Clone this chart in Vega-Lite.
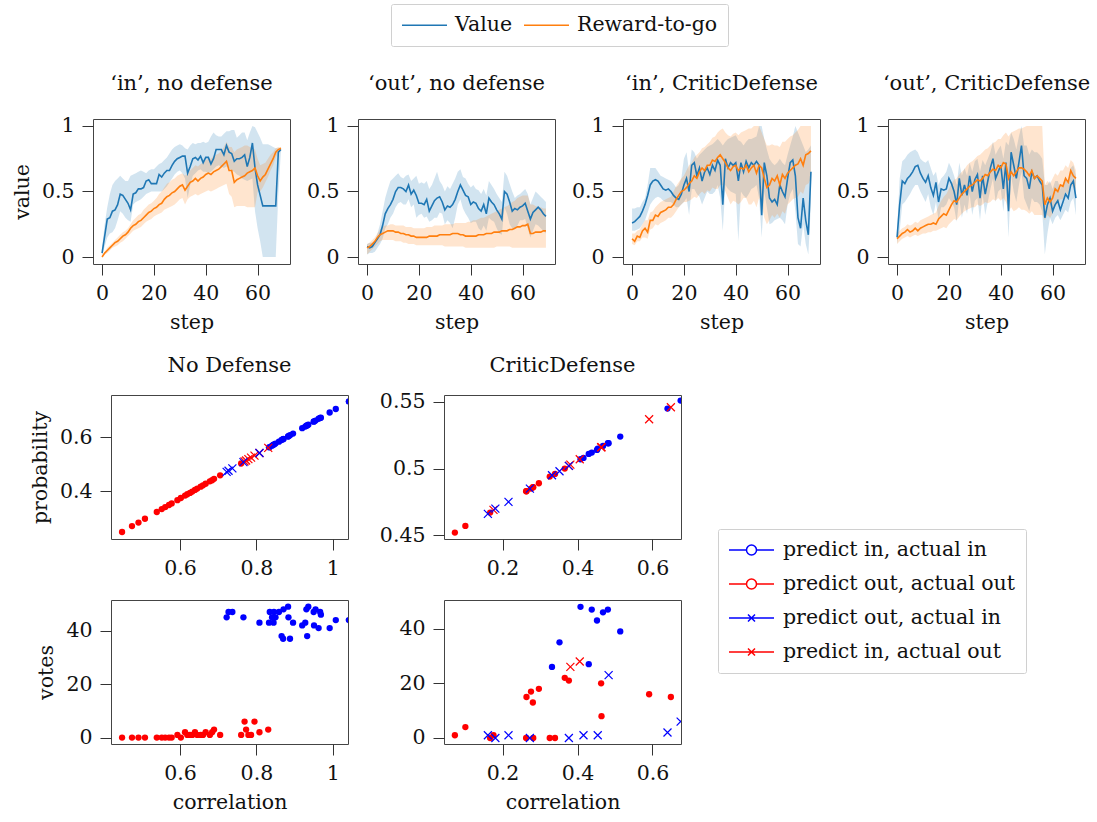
{
"$schema": "https://vega.github.io/schema/vega-lite/v6.json",
"padding": {"left": 11, "top": 3, "right": 5, "bottom": 5},
"background": "white",
"config": {
 "font": "DejaVu Serif",
 "view": {"stroke": "#444", "strokeWidth": 1},
 "axis": {"domain": false, "grid": false, "tickColor": "#333", "tickSize": 11, "tickWidth": 1, "labelFontSize": 20.5, "titleFontSize": 20.5, "titleFontWeight": "normal", "labelColor": "#111", "titleColor": "#111", "labelPadding": 8, "titlePadding": 9, "labelFlush": false, "labelOverlap": false},
 "title": {"fontSize": 21, "fontWeight": "normal", "color": "#111", "offset": 22, "frame": "group"},
 "legend": {"labelFontSize": 20.5, "labelColor": "#111", "strokeColor": "#d0d0d0", "fillColor": "white", "cornerRadius": 2, "labelLimit": 400}
},
"datasets": {
"a": [
{"step":0,"v":0.03,"vl":0.01,"vh":0.07,"r":0,"rl":0,"rh":0.01},
{"step":1,"v":0.16,"vl":0.08,"vh":0.25,"r":0.03,"rl":0.02,"rh":0.04},
{"step":2,"v":0.29,"vl":0.15,"vh":0.38,"r":0.05,"rl":0.03,"rh":0.07},
{"step":3,"v":0.30,"vl":0.18,"vh":0.48,"r":0.07,"rl":0.05,"rh":0.09},
{"step":4,"v":0.35,"vl":0.19,"vh":0.55,"r":0.09,"rl":0.07,"rh":0.11},
{"step":5,"v":0.36,"vl":0.22,"vh":0.58,"r":0.11,"rl":0.08,"rh":0.13},
{"step":6,"v":0.40,"vl":0.28,"vh":0.60,"r":0.12,"rl":0.09,"rh":0.15},
{"step":7,"v":0.48,"vl":0.35,"vh":0.62,"r":0.14,"rl":0.11,"rh":0.17},
{"step":8,"v":0.47,"vl":0.33,"vh":0.60,"r":0.16,"rl":0.12,"rh":0.19},
{"step":9,"v":0.44,"vl":0.30,"vh":0.58,"r":0.17,"rl":0.14,"rh":0.20},
{"step":10,"v":0.41,"vl":0.28,"vh":0.58,"r":0.19,"rl":0.16,"rh":0.22},
{"step":11,"v":0.36,"vl":0.27,"vh":0.62,"r":0.22,"rl":0.18,"rh":0.25},
{"step":12,"v":0.48,"vl":0.40,"vh":0.63,"r":0.24,"rl":0.20,"rh":0.28},
{"step":13,"v":0.49,"vl":0.42,"vh":0.64,"r":0.25,"rl":0.21,"rh":0.30},
{"step":14,"v":0.52,"vl":0.43,"vh":0.65,"r":0.27,"rl":0.22,"rh":0.32},
{"step":15,"v":0.52,"vl":0.44,"vh":0.66,"r":0.28,"rl":0.23,"rh":0.33},
{"step":16,"v":0.53,"vl":0.46,"vh":0.65,"r":0.30,"rl":0.25,"rh":0.36},
{"step":17,"v":0.58,"vl":0.48,"vh":0.64,"r":0.32,"rl":0.27,"rh":0.38},
{"step":18,"v":0.59,"vl":0.49,"vh":0.66,"r":0.34,"rl":0.28,"rh":0.40},
{"step":19,"v":0.56,"vl":0.50,"vh":0.67,"r":0.35,"rl":0.29,"rh":0.41},
{"step":20,"v":0.56,"vl":0.50,"vh":0.67,"r":0.37,"rl":0.31,"rh":0.43},
{"step":21,"v":0.56,"vl":0.50,"vh":0.69,"r":0.38,"rl":0.32,"rh":0.45},
{"step":22,"v":0.63,"vl":0.50,"vh":0.71,"r":0.40,"rl":0.33,"rh":0.48},
{"step":23,"v":0.61,"vl":0.50,"vh":0.72,"r":0.41,"rl":0.34,"rh":0.50},
{"step":24,"v":0.64,"vl":0.52,"vh":0.74,"r":0.44,"rl":0.36,"rh":0.53},
{"step":25,"v":0.66,"vl":0.54,"vh":0.76,"r":0.46,"rl":0.37,"rh":0.56},
{"step":26,"v":0.66,"vl":0.57,"vh":0.79,"r":0.47,"rl":0.38,"rh":0.57},
{"step":27,"v":0.70,"vl":0.60,"vh":0.82,"r":0.49,"rl":0.39,"rh":0.59},
{"step":28,"v":0.73,"vl":0.63,"vh":0.84,"r":0.50,"rl":0.40,"rh":0.60},
{"step":29,"v":0.75,"vl":0.65,"vh":0.85,"r":0.52,"rl":0.42,"rh":0.62},
{"step":30,"v":0.76,"vl":0.66,"vh":0.86,"r":0.54,"rl":0.44,"rh":0.63},
{"step":31,"v":0.77,"vl":0.64,"vh":0.85,"r":0.55,"rl":0.45,"rh":0.64},
{"step":32,"v":0.77,"vl":0.60,"vh":0.83,"r":0.51,"rl":0.40,"rh":0.62},
{"step":33,"v":0.64,"vl":0.45,"vh":0.82,"r":0.54,"rl":0.44,"rh":0.64},
{"step":34,"v":0.69,"vl":0.55,"vh":0.85,"r":0.57,"rl":0.46,"rh":0.66},
{"step":35,"v":0.75,"vl":0.62,"vh":0.87,"r":0.58,"rl":0.47,"rh":0.68},
{"step":36,"v":0.76,"vl":0.64,"vh":0.86,"r":0.60,"rl":0.48,"rh":0.70},
{"step":37,"v":0.74,"vl":0.66,"vh":0.87,"r":0.58,"rl":0.47,"rh":0.69},
{"step":38,"v":0.77,"vl":0.67,"vh":0.87,"r":0.60,"rl":0.48,"rh":0.71},
{"step":39,"v":0.72,"vl":0.65,"vh":0.88,"r":0.61,"rl":0.49,"rh":0.72},
{"step":40,"v":0.76,"vl":0.65,"vh":0.87,"r":0.63,"rl":0.50,"rh":0.74},
{"step":41,"v":0.76,"vl":0.64,"vh":0.88,"r":0.64,"rl":0.51,"rh":0.75},
{"step":42,"v":0.71,"vl":0.65,"vh":0.92,"r":0.63,"rl":0.50,"rh":0.75},
{"step":43,"v":0.75,"vl":0.67,"vh":0.95,"r":0.65,"rl":0.51,"rh":0.77},
{"step":44,"v":0.82,"vl":0.69,"vh":0.93,"r":0.66,"rl":0.52,"rh":0.78},
{"step":45,"v":0.82,"vl":0.70,"vh":0.92,"r":0.67,"rl":0.53,"rh":0.79},
{"step":46,"v":0.82,"vl":0.69,"vh":0.92,"r":0.69,"rl":0.54,"rh":0.81},
{"step":47,"v":0.78,"vl":0.68,"vh":0.94,"r":0.71,"rl":0.55,"rh":0.84},
{"step":48,"v":0.85,"vl":0.69,"vh":0.96,"r":0.73,"rl":0.56,"rh":0.88},
{"step":49,"v":0.80,"vl":0.68,"vh":0.96,"r":0.66,"rl":0.48,"rh":0.84},
{"step":50,"v":0.79,"vl":0.66,"vh":0.97,"r":0.66,"rl":0.46,"rh":0.84},
{"step":51,"v":0.73,"vl":0.65,"vh":0.97,"r":0.57,"rl":0.38,"rh":0.80},
{"step":52,"v":0.75,"vl":0.63,"vh":0.91,"r":0.59,"rl":0.39,"rh":0.82},
{"step":53,"v":0.75,"vl":0.62,"vh":0.93,"r":0.60,"rl":0.39,"rh":0.83},
{"step":54,"v":0.76,"vl":0.60,"vh":0.95,"r":0.61,"rl":0.39,"rh":0.84},
{"step":55,"v":0.78,"vl":0.59,"vh":0.95,"r":0.62,"rl":0.39,"rh":0.85},
{"step":56,"v":0.69,"vl":0.58,"vh":0.89,"r":0.64,"rl":0.38,"rh":0.85},
{"step":57,"v":0.76,"vl":0.59,"vh":0.95,"r":0.65,"rl":0.38,"rh":0.84},
{"step":58,"v":0.87,"vl":0.60,"vh":1.0,"r":0.66,"rl":0.38,"rh":0.83},
{"step":59,"v":0.68,"vl":0.35,"vh":0.99,"r":0.68,"rl":0.38,"rh":0.82},
{"step":60,"v":0.55,"vl":0.22,"vh":0.95,"r":0.62,"rl":0.50,"rh":0.75},
{"step":61,"v":0.47,"vl":0.12,"vh":0.91,"r":0.58,"rl":0.50,"rh":0.70},
{"step":62,"v":0.39,"vl":0,"vh":0.86,"r":0.61,"rl":0.53,"rh":0.71},
{"step":63,"v":0.39,"vl":0,"vh":0.86,"r":0.63,"rl":0.57,"rh":0.72},
{"step":64,"v":0.39,"vl":0,"vh":0.86,"r":0.67,"rl":0.61,"rh":0.75},
{"step":65,"v":0.39,"vl":0,"vh":0.85,"r":0.71,"rl":0.66,"rh":0.78},
{"step":66,"v":0.39,"vl":0,"vh":0.84,"r":0.75,"rl":0.70,"rh":0.80},
{"step":67,"v":0.39,"vl":0,"vh":0.83,"r":0.80,"rl":0.76,"rh":0.83},
{"step":68,"v":0.80,"vl":0.48,"vh":0.83,"r":0.82,"rl":0.80,"rh":0.84},
{"step":69,"v":0.82,"vl":0.81,"vh":0.82,"r":0.83,"rl":0.82,"rh":0.84}
],
"b": [
{"step":0,"v":0.08,"vl":0.02,"vh":0.10,"r":0.07,"rl":0.02,"rh":0.10},
{"step":1,"v":0.07,"vl":0.03,"vh":0.11,"r":0.08,"rl":0.04,"rh":0.11},
{"step":2,"v":0.08,"vl":0.03,"vh":0.11,"r":0.10,"rl":0.06,"rh":0.13},
{"step":3,"v":0.11,"vl":0.04,"vh":0.12,"r":0.12,"rl":0.08,"rh":0.15},
{"step":4,"v":0.14,"vl":0.07,"vh":0.18,"r":0.15,"rl":0.10,"rh":0.18},
{"step":5,"v":0.17,"vl":0.10,"vh":0.25,"r":0.17,"rl":0.12,"rh":0.21},
{"step":6,"v":0.24,"vl":0.14,"vh":0.35,"r":0.18,"rl":0.13,"rh":0.23},
{"step":7,"v":0.33,"vl":0.22,"vh":0.45,"r":0.19,"rl":0.13,"rh":0.24},
{"step":8,"v":0.37,"vl":0.25,"vh":0.52,"r":0.20,"rl":0.13,"rh":0.24},
{"step":9,"v":0.40,"vl":0.30,"vh":0.58,"r":0.20,"rl":0.13,"rh":0.25},
{"step":10,"v":0.44,"vl":0.33,"vh":0.60,"r":0.20,"rl":0.13,"rh":0.25},
{"step":11,"v":0.50,"vl":0.38,"vh":0.62,"r":0.19,"rl":0.12,"rh":0.24},
{"step":12,"v":0.53,"vl":0.41,"vh":0.64,"r":0.19,"rl":0.12,"rh":0.24},
{"step":13,"v":0.53,"vl":0.42,"vh":0.61,"r":0.18,"rl":0.12,"rh":0.24},
{"step":14,"v":0.52,"vl":0.40,"vh":0.60,"r":0.18,"rl":0.11,"rh":0.24},
{"step":15,"v":0.50,"vl":0.40,"vh":0.62,"r":0.17,"rl":0.11,"rh":0.23},
{"step":16,"v":0.55,"vl":0.44,"vh":0.63,"r":0.17,"rl":0.10,"rh":0.23},
{"step":17,"v":0.48,"vl":0.38,"vh":0.58,"r":0.16,"rl":0.10,"rh":0.23},
{"step":18,"v":0.51,"vl":0.40,"vh":0.60,"r":0.16,"rl":0.10,"rh":0.22},
{"step":19,"v":0.47,"vl":0.30,"vh":0.62,"r":0.15,"rl":0.09,"rh":0.22},
{"step":20,"v":0.41,"vl":0.32,"vh":0.56,"r":0.15,"rl":0.09,"rh":0.22},
{"step":21,"v":0.41,"vl":0.33,"vh":0.57,"r":0.15,"rl":0.09,"rh":0.22},
{"step":22,"v":0.40,"vl":0.30,"vh":0.56,"r":0.15,"rl":0.09,"rh":0.22},
{"step":23,"v":0.44,"vl":0.31,"vh":0.58,"r":0.15,"rl":0.09,"rh":0.23},
{"step":24,"v":0.35,"vl":0.27,"vh":0.52,"r":0.16,"rl":0.09,"rh":0.23},
{"step":25,"v":0.39,"vl":0.28,"vh":0.55,"r":0.16,"rl":0.09,"rh":0.23},
{"step":26,"v":0.43,"vl":0.30,"vh":0.60,"r":0.16,"rl":0.09,"rh":0.24},
{"step":27,"v":0.45,"vl":0.30,"vh":0.65,"r":0.16,"rl":0.09,"rh":0.24},
{"step":28,"v":0.46,"vl":0.34,"vh":0.58,"r":0.17,"rl":0.09,"rh":0.24},
{"step":29,"v":0.42,"vl":0.33,"vh":0.55,"r":0.17,"rl":0.09,"rh":0.24},
{"step":30,"v":0.36,"vl":0.25,"vh":0.50,"r":0.17,"rl":0.08,"rh":0.25},
{"step":31,"v":0.39,"vl":0.28,"vh":0.54,"r":0.17,"rl":0.08,"rh":0.25},
{"step":32,"v":0.38,"vl":0.26,"vh":0.52,"r":0.17,"rl":0.08,"rh":0.25},
{"step":33,"v":0.40,"vl":0.22,"vh":0.56,"r":0.18,"rl":0.08,"rh":0.25},
{"step":34,"v":0.44,"vl":0.30,"vh":0.60,"r":0.18,"rl":0.08,"rh":0.26},
{"step":35,"v":0.50,"vl":0.40,"vh":0.65,"r":0.18,"rl":0.08,"rh":0.26},
{"step":36,"v":0.55,"vl":0.44,"vh":0.67,"r":0.17,"rl":0.08,"rh":0.26},
{"step":37,"v":0.51,"vl":0.37,"vh":0.61,"r":0.17,"rl":0.08,"rh":0.26},
{"step":38,"v":0.47,"vl":0.33,"vh":0.60,"r":0.16,"rl":0.07,"rh":0.26},
{"step":39,"v":0.46,"vl":0.30,"vh":0.56,"r":0.16,"rl":0.07,"rh":0.27},
{"step":40,"v":0.40,"vl":0.26,"vh":0.53,"r":0.16,"rl":0.07,"rh":0.27},
{"step":41,"v":0.42,"vl":0.27,"vh":0.55,"r":0.16,"rl":0.07,"rh":0.28},
{"step":42,"v":0.41,"vl":0.27,"vh":0.52,"r":0.16,"rl":0.07,"rh":0.28},
{"step":43,"v":0.37,"vl":0.22,"vh":0.51,"r":0.17,"rl":0.07,"rh":0.29},
{"step":44,"v":0.35,"vl":0.20,"vh":0.48,"r":0.17,"rl":0.07,"rh":0.30},
{"step":45,"v":0.40,"vl":0.24,"vh":0.52,"r":0.17,"rl":0.07,"rh":0.30},
{"step":46,"v":0.33,"vl":0.20,"vh":0.47,"r":0.18,"rl":0.07,"rh":0.31},
{"step":47,"v":0.45,"vl":0.30,"vh":0.58,"r":0.18,"rl":0.07,"rh":0.32},
{"step":48,"v":0.42,"vl":0.28,"vh":0.55,"r":0.18,"rl":0.07,"rh":0.33},
{"step":49,"v":0.40,"vl":0.27,"vh":0.52,"r":0.19,"rl":0.07,"rh":0.34},
{"step":50,"v":0.36,"vl":0.22,"vh":0.48,"r":0.19,"rl":0.08,"rh":0.35},
{"step":51,"v":0.33,"vl":0.18,"vh":0.45,"r":0.19,"rl":0.08,"rh":0.36},
{"step":52,"v":0.29,"vl":0.17,"vh":0.42,"r":0.20,"rl":0.08,"rh":0.37},
{"step":53,"v":0.50,"vl":0.38,"vh":0.65,"r":0.20,"rl":0.08,"rh":0.38},
{"step":54,"v":0.48,"vl":0.33,"vh":0.62,"r":0.20,"rl":0.08,"rh":0.39},
{"step":55,"v":0.42,"vl":0.25,"vh":0.56,"r":0.21,"rl":0.08,"rh":0.40},
{"step":56,"v":0.35,"vl":0.22,"vh":0.50,"r":0.21,"rl":0.07,"rh":0.42},
{"step":57,"v":0.37,"vl":0.22,"vh":0.45,"r":0.22,"rl":0.07,"rh":0.43},
{"step":58,"v":0.36,"vl":0.24,"vh":0.47,"r":0.23,"rl":0.07,"rh":0.45},
{"step":59,"v":0.38,"vl":0.28,"vh":0.48,"r":0.23,"rl":0.07,"rh":0.46},
{"step":60,"v":0.39,"vl":0.28,"vh":0.50,"r":0.24,"rl":0.07,"rh":0.47},
{"step":61,"v":0.41,"vl":0.29,"vh":0.52,"r":0.24,"rl":0.07,"rh":0.47},
{"step":62,"v":0.35,"vl":0.22,"vh":0.48,"r":0.25,"rl":0.07,"rh":0.47},
{"step":63,"v":0.29,"vl":0.15,"vh":0.40,"r":0.18,"rl":0.07,"rh":0.40},
{"step":64,"v":0.34,"vl":0.20,"vh":0.45,"r":0.18,"rl":0.07,"rh":0.40},
{"step":65,"v":0.36,"vl":0.25,"vh":0.50,"r":0.19,"rl":0.07,"rh":0.39},
{"step":66,"v":0.38,"vl":0.24,"vh":0.48,"r":0.19,"rl":0.07,"rh":0.38},
{"step":67,"v":0.36,"vl":0.22,"vh":0.46,"r":0.19,"rl":0.07,"rh":0.38},
{"step":68,"v":0.33,"vl":0.20,"vh":0.44,"r":0.20,"rl":0.07,"rh":0.37},
{"step":69,"v":0.31,"vl":0.18,"vh":0.42,"r":0.20,"rl":0.07,"rh":0.37}
],
"c": [
{"step":0,"v":0.26,"vl":0.20,"vh":0.37,"r":0.14,"rl":0.10,"rh":0.18},
{"step":1,"v":0.27,"vl":0.20,"vh":0.37,"r":0.12,"rl":0.09,"rh":0.18},
{"step":2,"v":0.29,"vl":0.21,"vh":0.38,"r":0.16,"rl":0.12,"rh":0.20},
{"step":3,"v":0.31,"vl":0.22,"vh":0.38,"r":0.15,"rl":0.12,"rh":0.21},
{"step":4,"v":0.35,"vl":0.25,"vh":0.42,"r":0.20,"rl":0.15,"rh":0.25},
{"step":5,"v":0.40,"vl":0.28,"vh":0.45,"r":0.22,"rl":0.15,"rh":0.28},
{"step":6,"v":0.47,"vl":0.34,"vh":0.55,"r":0.19,"rl":0.14,"rh":0.28},
{"step":7,"v":0.55,"vl":0.40,"vh":0.68,"r":0.28,"rl":0.21,"rh":0.34},
{"step":8,"v":0.58,"vl":0.43,"vh":0.68,"r":0.28,"rl":0.22,"rh":0.35},
{"step":9,"v":0.59,"vl":0.45,"vh":0.68,"r":0.32,"rl":0.25,"rh":0.38},
{"step":10,"v":0.58,"vl":0.46,"vh":0.65,"r":0.31,"rl":0.24,"rh":0.40},
{"step":11,"v":0.55,"vl":0.45,"vh":0.62,"r":0.34,"rl":0.26,"rh":0.42},
{"step":12,"v":0.52,"vl":0.43,"vh":0.61,"r":0.35,"rl":0.27,"rh":0.43},
{"step":13,"v":0.51,"vl":0.42,"vh":0.60,"r":0.36,"rl":0.28,"rh":0.44},
{"step":14,"v":0.52,"vl":0.42,"vh":0.59,"r":0.38,"rl":0.30,"rh":0.45},
{"step":15,"v":0.50,"vl":0.42,"vh":0.58,"r":0.38,"rl":0.30,"rh":0.46},
{"step":16,"v":0.47,"vl":0.40,"vh":0.56,"r":0.40,"rl":0.32,"rh":0.50},
{"step":17,"v":0.45,"vl":0.38,"vh":0.53,"r":0.44,"rl":0.35,"rh":0.54},
{"step":18,"v":0.44,"vl":0.38,"vh":0.55,"r":0.47,"rl":0.38,"rh":0.57},
{"step":19,"v":0.48,"vl":0.40,"vh":0.60,"r":0.50,"rl":0.40,"rh":0.60},
{"step":20,"v":0.55,"vl":0.42,"vh":0.75,"r":0.51,"rl":0.42,"rh":0.62},
{"step":21,"v":0.60,"vl":0.45,"vh":0.80,"r":0.53,"rl":0.42,"rh":0.66},
{"step":22,"v":0.50,"vl":0.32,"vh":0.65,"r":0.56,"rl":0.43,"rh":0.70},
{"step":23,"v":0.70,"vl":0.52,"vh":0.82,"r":0.58,"rl":0.44,"rh":0.72},
{"step":24,"v":0.72,"vl":0.52,"vh":0.80,"r":0.62,"rl":0.46,"rh":0.76},
{"step":25,"v":0.62,"vl":0.48,"vh":0.75,"r":0.60,"rl":0.45,"rh":0.78},
{"step":26,"v":0.68,"vl":0.46,"vh":0.78,"r":0.65,"rl":0.48,"rh":0.80},
{"step":27,"v":0.58,"vl":0.40,"vh":0.80,"r":0.68,"rl":0.50,"rh":0.83},
{"step":28,"v":0.65,"vl":0.45,"vh":0.82,"r":0.66,"rl":0.48,"rh":0.84},
{"step":29,"v":0.68,"vl":0.50,"vh":0.84,"r":0.70,"rl":0.51,"rh":0.86},
{"step":30,"v":0.63,"vl":0.48,"vh":0.85,"r":0.70,"rl":0.50,"rh":0.88},
{"step":31,"v":0.70,"vl":0.48,"vh":0.86,"r":0.74,"rl":0.53,"rh":0.91},
{"step":32,"v":0.66,"vl":0.50,"vh":0.88,"r":0.73,"rl":0.52,"rh":0.92},
{"step":33,"v":0.74,"vl":0.55,"vh":0.90,"r":0.76,"rl":0.52,"rh":0.95},
{"step":34,"v":0.70,"vl":0.45,"vh":0.88,"r":0.78,"rl":0.55,"rh":0.97},
{"step":35,"v":0.40,"vl":0.20,"vh":0.85,"r":0.75,"rl":0.55,"rh":0.98},
{"step":36,"v":0.75,"vl":0.55,"vh":0.88,"r":0.72,"rl":0.50,"rh":0.95},
{"step":37,"v":0.68,"vl":0.52,"vh":0.90,"r":0.68,"rl":0.45,"rh":0.93},
{"step":38,"v":0.72,"vl":0.50,"vh":0.91,"r":0.66,"rl":0.40,"rh":0.92},
{"step":39,"v":0.70,"vl":0.49,"vh":0.92,"r":0.69,"rl":0.43,"rh":0.94},
{"step":40,"v":0.72,"vl":0.48,"vh":0.93,"r":0.70,"rl":0.42,"rh":0.95},
{"step":41,"v":0.58,"vl":0.12,"vh":0.89,"r":0.66,"rl":0.40,"rh":0.93},
{"step":42,"v":0.72,"vl":0.50,"vh":0.88,"r":0.68,"rl":0.42,"rh":0.95},
{"step":43,"v":0.65,"vl":0.47,"vh":0.85,"r":0.67,"rl":0.45,"rh":0.96},
{"step":44,"v":0.73,"vl":0.45,"vh":0.88,"r":0.70,"rl":0.45,"rh":0.97},
{"step":45,"v":0.68,"vl":0.48,"vh":0.90,"r":0.65,"rl":0.40,"rh":0.98},
{"step":46,"v":0.72,"vl":0.52,"vh":0.90,"r":0.68,"rl":0.40,"rh":0.98},
{"step":47,"v":0.70,"vl":0.53,"vh":0.91,"r":0.70,"rl":0.43,"rh":1.0},
{"step":48,"v":0.73,"vl":0.55,"vh":0.92,"r":0.64,"rl":0.38,"rh":1.0},
{"step":49,"v":0.70,"vl":0.45,"vh":1.0,"r":0.70,"rl":0.45,"rh":1.0},
{"step":50,"v":0.32,"vl":0.15,"vh":1.0,"r":0.68,"rl":0.40,"rh":0.95},
{"step":51,"v":0.72,"vl":0.50,"vh":0.90,"r":0.60,"rl":0.30,"rh":0.90},
{"step":52,"v":0.62,"vl":0.38,"vh":0.82,"r":0.53,"rl":0.25,"rh":0.85},
{"step":53,"v":0.45,"vl":0.25,"vh":0.75,"r":0.55,"rl":0.28,"rh":0.85},
{"step":54,"v":0.42,"vl":0.26,"vh":0.72,"r":0.60,"rl":0.32,"rh":0.86},
{"step":55,"v":0.44,"vl":0.28,"vh":0.70,"r":0.58,"rl":0.30,"rh":0.85},
{"step":56,"v":0.40,"vl":0.29,"vh":0.72,"r":0.62,"rl":0.33,"rh":0.85},
{"step":57,"v":0.55,"vl":0.30,"vh":0.75,"r":0.55,"rl":0.30,"rh":0.84},
{"step":58,"v":0.50,"vl":0.28,"vh":0.72,"r":0.63,"rl":0.35,"rh":0.88},
{"step":59,"v":0.46,"vl":0.25,"vh":0.70,"r":0.60,"rl":0.33,"rh":0.88},
{"step":60,"v":0.60,"vl":0.40,"vh":0.78,"r":0.64,"rl":0.40,"rh":0.90},
{"step":61,"v":0.72,"vl":0.48,"vh":0.85,"r":0.66,"rl":0.42,"rh":0.92},
{"step":62,"v":0.74,"vl":0.52,"vh":0.92,"r":0.68,"rl":0.44,"rh":0.93},
{"step":63,"v":0.62,"vl":0.35,"vh":1.0,"r":0.70,"rl":0.45,"rh":0.95},
{"step":64,"v":0.30,"vl":0.10,"vh":0.95,"r":0.71,"rl":0.46,"rh":0.97},
{"step":65,"v":0.22,"vl":0.08,"vh":0.90,"r":0.75,"rl":0.50,"rh":1.0},
{"step":66,"v":0.45,"vl":0.25,"vh":0.85,"r":0.70,"rl":0.48,"rh":1.0},
{"step":67,"v":0.28,"vl":0.10,"vh":0.80,"r":0.78,"rl":0.55,"rh":1.0},
{"step":68,"v":0.17,"vl":0.02,"vh":0.82,"r":0.79,"rl":0.56,"rh":1.0},
{"step":69,"v":0.65,"vl":0.40,"vh":0.85,"r":0.81,"rl":0.60,"rh":1.0}
],
"d": [
{"step":0,"v":0.15,"vl":0.10,"vh":0.20,"r":0.14,"rl":0.10,"rh":0.18},
{"step":1,"v":0.40,"vl":0.20,"vh":0.60,"r":0.16,"rl":0.12,"rh":0.20},
{"step":2,"v":0.58,"vl":0.40,"vh":0.73,"r":0.18,"rl":0.14,"rh":0.22},
{"step":3,"v":0.56,"vl":0.42,"vh":0.75,"r":0.19,"rl":0.15,"rh":0.23},
{"step":4,"v":0.60,"vl":0.45,"vh":0.78,"r":0.21,"rl":0.16,"rh":0.25},
{"step":5,"v":0.62,"vl":0.48,"vh":0.80,"r":0.19,"rl":0.15,"rh":0.24},
{"step":6,"v":0.65,"vl":0.52,"vh":0.81,"r":0.20,"rl":0.16,"rh":0.25},
{"step":7,"v":0.69,"vl":0.55,"vh":0.82,"r":0.22,"rl":0.17,"rh":0.27},
{"step":8,"v":0.70,"vl":0.55,"vh":0.80,"r":0.20,"rl":0.16,"rh":0.26},
{"step":9,"v":0.64,"vl":0.50,"vh":0.75,"r":0.22,"rl":0.17,"rh":0.28},
{"step":10,"v":0.60,"vl":0.46,"vh":0.73,"r":0.23,"rl":0.18,"rh":0.29},
{"step":11,"v":0.57,"vl":0.42,"vh":0.72,"r":0.24,"rl":0.18,"rh":0.30},
{"step":12,"v":0.62,"vl":0.48,"vh":0.74,"r":0.25,"rl":0.19,"rh":0.31},
{"step":13,"v":0.53,"vl":0.38,"vh":0.68,"r":0.25,"rl":0.19,"rh":0.32},
{"step":14,"v":0.47,"vl":0.32,"vh":0.62,"r":0.26,"rl":0.20,"rh":0.33},
{"step":15,"v":0.57,"vl":0.42,"vh":0.65,"r":0.25,"rl":0.20,"rh":0.34},
{"step":16,"v":0.42,"vl":0.28,"vh":0.55,"r":0.29,"rl":0.21,"rh":0.39},
{"step":17,"v":0.52,"vl":0.38,"vh":0.60,"r":0.31,"rl":0.22,"rh":0.43},
{"step":18,"v":0.51,"vl":0.38,"vh":0.62,"r":0.33,"rl":0.23,"rh":0.46},
{"step":19,"v":0.52,"vl":0.40,"vh":0.65,"r":0.32,"rl":0.22,"rh":0.48},
{"step":20,"v":0.60,"vl":0.45,"vh":0.72,"r":0.36,"rl":0.25,"rh":0.52},
{"step":21,"v":0.56,"vl":0.42,"vh":0.68,"r":0.40,"rl":0.27,"rh":0.56},
{"step":22,"v":0.50,"vl":0.38,"vh":0.62,"r":0.43,"rl":0.29,"rh":0.59},
{"step":23,"v":0.40,"vl":0.27,"vh":0.55,"r":0.42,"rl":0.28,"rh":0.60},
{"step":24,"v":0.60,"vl":0.45,"vh":0.72,"r":0.45,"rl":0.31,"rh":0.63},
{"step":25,"v":0.47,"vl":0.30,"vh":0.62,"r":0.48,"rl":0.33,"rh":0.65},
{"step":26,"v":0.55,"vl":0.40,"vh":0.68,"r":0.50,"rl":0.35,"rh":0.67},
{"step":27,"v":0.47,"vl":0.33,"vh":0.62,"r":0.52,"rl":0.36,"rh":0.70},
{"step":28,"v":0.62,"vl":0.48,"vh":0.72,"r":0.54,"rl":0.37,"rh":0.72},
{"step":29,"v":0.50,"vl":0.32,"vh":0.65,"r":0.55,"rl":0.38,"rh":0.73},
{"step":30,"v":0.59,"vl":0.43,"vh":0.73,"r":0.57,"rl":0.38,"rh":0.75},
{"step":31,"v":0.63,"vl":0.45,"vh":0.75,"r":0.59,"rl":0.40,"rh":0.77},
{"step":32,"v":0.45,"vl":0.28,"vh":0.65,"r":0.58,"rl":0.39,"rh":0.78},
{"step":33,"v":0.62,"vl":0.48,"vh":0.74,"r":0.60,"rl":0.40,"rh":0.80},
{"step":34,"v":0.48,"vl":0.32,"vh":0.70,"r":0.63,"rl":0.42,"rh":0.82},
{"step":35,"v":0.58,"vl":0.42,"vh":0.75,"r":0.62,"rl":0.41,"rh":0.83},
{"step":36,"v":0.68,"vl":0.52,"vh":0.80,"r":0.65,"rl":0.42,"rh":0.85},
{"step":37,"v":0.75,"vl":0.60,"vh":0.88,"r":0.67,"rl":0.44,"rh":0.87},
{"step":38,"v":0.60,"vl":0.42,"vh":0.78,"r":0.66,"rl":0.43,"rh":0.88},
{"step":39,"v":0.65,"vl":0.50,"vh":0.82,"r":0.70,"rl":0.45,"rh":0.90},
{"step":40,"v":0.70,"vl":0.52,"vh":0.85,"r":0.68,"rl":0.43,"rh":0.90},
{"step":41,"v":0.52,"vl":0.35,"vh":0.75,"r":0.72,"rl":0.45,"rh":0.93},
{"step":42,"v":0.72,"vl":0.55,"vh":0.88,"r":0.71,"rl":0.42,"rh":0.95},
{"step":43,"v":0.35,"vl":0.15,"vh":0.85,"r":0.60,"rl":0.35,"rh":0.92},
{"step":44,"v":0.80,"vl":0.62,"vh":0.95,"r":0.65,"rl":0.38,"rh":0.95},
{"step":45,"v":0.70,"vl":0.50,"vh":0.90,"r":0.62,"rl":0.35,"rh":0.96},
{"step":46,"v":0.60,"vl":0.42,"vh":0.82,"r":0.65,"rl":0.36,"rh":0.97},
{"step":47,"v":0.72,"vl":0.55,"vh":0.92,"r":0.68,"rl":0.38,"rh":0.98},
{"step":48,"v":0.85,"vl":0.65,"vh":1.0,"r":0.68,"rl":0.36,"rh":0.98},
{"step":49,"v":0.62,"vl":0.45,"vh":0.85,"r":0.67,"rl":0.36,"rh":0.99},
{"step":50,"v":0.60,"vl":0.40,"vh":0.85,"r":0.65,"rl":0.35,"rh":1.0},
{"step":51,"v":0.52,"vl":0.35,"vh":0.78,"r":0.62,"rl":0.33,"rh":1.0},
{"step":52,"v":0.65,"vl":0.45,"vh":0.82,"r":0.66,"rl":0.35,"rh":1.0},
{"step":53,"v":0.60,"vl":0.42,"vh":0.80,"r":0.60,"rl":0.32,"rh":1.0},
{"step":54,"v":0.62,"vl":0.42,"vh":0.80,"r":0.62,"rl":0.32,"rh":1.0},
{"step":55,"v":0.58,"vl":0.40,"vh":0.78,"r":0.60,"rl":0.32,"rh":1.0},
{"step":56,"v":0.55,"vl":0.35,"vh":0.75,"r":0.58,"rl":0.32,"rh":1.0},
{"step":57,"v":0.30,"vl":0.02,"vh":0.55,"r":0.40,"rl":0.28,"rh":0.55},
{"step":58,"v":0.40,"vl":0.18,"vh":0.55,"r":0.45,"rl":0.32,"rh":0.58},
{"step":59,"v":0.45,"vl":0.30,"vh":0.58,"r":0.42,"rl":0.30,"rh":0.56},
{"step":60,"v":0.35,"vl":0.25,"vh":0.52,"r":0.45,"rl":0.33,"rh":0.60},
{"step":61,"v":0.40,"vl":0.30,"vh":0.58,"r":0.52,"rl":0.40,"rh":0.64},
{"step":62,"v":0.43,"vl":0.32,"vh":0.58,"r":0.50,"rl":0.40,"rh":0.62},
{"step":63,"v":0.36,"vl":0.28,"vh":0.52,"r":0.55,"rl":0.44,"rh":0.66},
{"step":64,"v":0.42,"vl":0.32,"vh":0.56,"r":0.54,"rl":0.44,"rh":0.66},
{"step":65,"v":0.48,"vl":0.36,"vh":0.60,"r":0.60,"rl":0.50,"rh":0.70},
{"step":66,"v":0.45,"vl":0.34,"vh":0.58,"r":0.57,"rl":0.47,"rh":0.68},
{"step":67,"v":0.55,"vl":0.42,"vh":0.68,"r":0.66,"rl":0.56,"rh":0.74},
{"step":68,"v":0.58,"vl":0.45,"vh":0.70,"r":0.62,"rl":0.53,"rh":0.72},
{"step":69,"v":0.45,"vl":0.32,"vh":0.62,"r":0.60,"rl":0.52,"rh":0.66}
],
"nd": [
{"c":0.448,"p":0.248,"v":0,"kp":"B","kv":"B"},
{"c":0.474,"p":0.270,"v":0,"kp":"B","kv":"B"},
{"c":0.491,"p":0.283,"v":0,"kp":"B","kv":"B"},
{"c":0.508,"p":0.297,"v":0,"kp":"B","kv":"B"},
{"c":0.539,"p":0.322,"v":0,"kp":"B","kv":"B"},
{"c":0.552,"p":0.333,"v":0,"kp":"B","kv":"B"},
{"c":0.561,"p":0.340,"v":0,"kp":"B","kv":"B"},
{"c":0.571,"p":0.348,"v":0,"kp":"B","kv":"B"},
{"c":0.578,"p":0.354,"v":0,"kp":"B","kv":"B"},
{"c":0.593,"p":0.366,"v":1,"kp":"B","kv":"B"},
{"c":0.602,"p":0.374,"v":0,"kp":"B","kv":"B"},
{"c":0.613,"p":0.383,"v":2,"kp":"B","kv":"B"},
{"c":0.619,"p":0.388,"v":1,"kp":"B","kv":"B"},
{"c":0.626,"p":0.393,"v":1,"kp":"B","kv":"B"},
{"c":0.632,"p":0.398,"v":1,"kp":"B","kv":"B"},
{"c":0.639,"p":0.404,"v":2,"kp":"B","kv":"B"},
{"c":0.645,"p":0.409,"v":1,"kp":"B","kv":"B"},
{"c":0.654,"p":0.416,"v":1,"kp":"B","kv":"B"},
{"c":0.660,"p":0.421,"v":1,"kp":"B","kv":"B"},
{"c":0.667,"p":0.427,"v":2,"kp":"B","kv":"B"},
{"c":0.678,"p":0.436,"v":1,"kp":"B","kv":"B"},
{"c":0.684,"p":0.440,"v":2,"kp":"B","kv":"B"},
{"c":0.689,"p":0.445,"v":3,"kp":"B","kv":"B"},
{"c":0.705,"p":0.458,"v":1,"kp":"B","kv":"B"},
{"c":0.760,"p":0.502,"v":1,"kp":"B","kv":"B"},
{"c":0.769,"p":0.510,"v":6,"kp":"D","kv":"B"},
{"c":0.773,"p":0.513,"v":3,"kp":"D","kv":"B"},
{"c":0.779,"p":0.518,"v":1,"kp":"D","kv":"B"},
{"c":0.786,"p":0.524,"v":1,"kp":"D","kv":"B"},
{"c":0.795,"p":0.531,"v":6,"kp":"D","kv":"B"},
{"c":0.808,"p":0.541,"v":2,"kp":"D","kv":"B"},
{"c":0.831,"p":0.560,"v":3,"kp":"D","kv":"B"},
{"c":0.722,"p":0.471,"v":45,"kp":"C","kv":"A"},
{"c":0.727,"p":0.475,"v":47,"kp":"C","kv":"A"},
{"c":0.737,"p":0.484,"v":47,"kp":"C","kv":"A"},
{"c":0.766,"p":0.507,"v":45,"kp":"C","kv":"A"},
{"c":0.808,"p":0.541,"v":43,"kp":"C","kv":"A"},
{"c":0.833,"p":0.562,"v":43,"kp":"A","kv":"A"},
{"c":0.835,"p":0.563,"v":47,"kp":"A","kv":"A"},
{"c":0.841,"p":0.568,"v":45,"kp":"A","kv":"A"},
{"c":0.845,"p":0.572,"v":43,"kp":"A","kv":"A"},
{"c":0.846,"p":0.572,"v":47,"kp":"A","kv":"A"},
{"c":0.850,"p":0.576,"v":45,"kp":"A","kv":"A"},
{"c":0.859,"p":0.583,"v":47,"kp":"A","kv":"A"},
{"c":0.866,"p":0.589,"v":38,"kp":"A","kv":"A"},
{"c":0.870,"p":0.592,"v":37,"kp":"A","kv":"A"},
{"c":0.871,"p":0.593,"v":48,"kp":"A","kv":"A"},
{"c":0.883,"p":0.602,"v":49,"kp":"A","kv":"A"},
{"c":0.884,"p":0.603,"v":45,"kp":"A","kv":"A"},
{"c":0.888,"p":0.607,"v":37,"kp":"A","kv":"A"},
{"c":0.896,"p":0.613,"v":43,"kp":"A","kv":"A"},
{"c":0.920,"p":0.633,"v":42,"kp":"A","kv":"A"},
{"c":0.928,"p":0.639,"v":43,"kp":"A","kv":"A"},
{"c":0.931,"p":0.642,"v":48,"kp":"A","kv":"A"},
{"c":0.933,"p":0.643,"v":38,"kp":"A","kv":"A"},
{"c":0.936,"p":0.646,"v":49,"kp":"A","kv":"A"},
{"c":0.950,"p":0.657,"v":47,"kp":"A","kv":"A"},
{"c":0.951,"p":0.658,"v":42,"kp":"A","kv":"A"},
{"c":0.955,"p":0.661,"v":48,"kp":"A","kv":"A"},
{"c":0.963,"p":0.668,"v":41,"kp":"A","kv":"A"},
{"c":0.967,"p":0.671,"v":47,"kp":"A","kv":"A"},
{"c":0.969,"p":0.672,"v":46,"kp":"A","kv":"A"},
{"c":0.992,"p":0.691,"v":41,"kp":"A","kv":"A"},
{"c":1.008,"p":0.704,"v":44,"kp":"A","kv":"A"},
{"c":1.042,"p":0.732,"v":44,"kp":"A","kv":"A"}
],
"cd": [
{"c":0.073,"p":0.452,"v":1,"kp":"B","kv":"B"},
{"c":0.101,"p":0.457,"v":4,"kp":"B","kv":"B"},
{"c":0.167,"p":0.467,"v":0,"kp":"B","kv":"B"},
{"c":0.176,"p":0.469,"v":1,"kp":"D","kv":"B"},
{"c":0.263,"p":0.483,"v":0,"kp":"B","kv":"B"},
{"c":0.264,"p":0.483,"v":15,"kp":"B","kv":"B"},
{"c":0.276,"p":0.485,"v":17,"kp":"B","kv":"B"},
{"c":0.281,"p":0.486,"v":13,"kp":"B","kv":"B"},
{"c":0.282,"p":0.486,"v":0,"kp":"B","kv":"B"},
{"c":0.297,"p":0.489,"v":18,"kp":"B","kv":"B"},
{"c":0.326,"p":0.494,"v":0,"kp":"B","kv":"B"},
{"c":0.340,"p":0.496,"v":0,"kp":"B","kv":"B"},
{"c":0.366,"p":0.500,"v":22,"kp":"B","kv":"B"},
{"c":0.377,"p":0.502,"v":21,"kp":"D","kv":"B"},
{"c":0.381,"p":0.503,"v":26,"kp":"D","kv":"D"},
{"c":0.406,"p":0.507,"v":28,"kp":"D","kv":"D"},
{"c":0.463,"p":0.516,"v":20,"kp":"D","kv":"B"},
{"c":0.464,"p":0.516,"v":8,"kp":"D","kv":"B"},
{"c":0.591,"p":0.537,"v":16,"kp":"D","kv":"B"},
{"c":0.649,"p":0.546,"v":15,"kp":"D","kv":"B"},
{"c":0.161,"p":0.466,"v":1,"kp":"C","kv":"C"},
{"c":0.181,"p":0.470,"v":0,"kp":"C","kv":"C"},
{"c":0.216,"p":0.475,"v":1,"kp":"C","kv":"C"},
{"c":0.273,"p":0.485,"v":0,"kp":"C","kv":"C"},
{"c":0.332,"p":0.495,"v":26,"kp":"C","kv":"A"},
{"c":0.352,"p":0.498,"v":35,"kp":"C","kv":"A"},
{"c":0.377,"p":0.502,"v":0,"kp":"C","kv":"C"},
{"c":0.408,"p":0.507,"v":48,"kp":"A","kv":"A"},
{"c":0.416,"p":0.508,"v":1,"kp":"A","kv":"C"},
{"c":0.430,"p":0.511,"v":27,"kp":"A","kv":"A"},
{"c":0.438,"p":0.512,"v":47,"kp":"A","kv":"A"},
{"c":0.452,"p":0.514,"v":43,"kp":"A","kv":"A"},
{"c":0.454,"p":0.515,"v":1,"kp":"A","kv":"C"},
{"c":0.468,"p":0.517,"v":46,"kp":"A","kv":"A"},
{"c":0.481,"p":0.519,"v":47,"kp":"A","kv":"A"},
{"c":0.483,"p":0.519,"v":23,"kp":"A","kv":"C"},
{"c":0.514,"p":0.524,"v":39,"kp":"A","kv":"A"},
{"c":0.640,"p":0.545,"v":2,"kp":"A","kv":"C"},
{"c":0.675,"p":0.551,"v":6,"kp":"A","kv":"C"}
]
},
"resolve": {"scale": {"color": "independent"}},
"spacing": 20,
"vconcat": [
{"hconcat": [
 {"width":197,"height":145,"title":{"text":"‘in’, no defense"},"data":{"name":"a"},
  "encoding":{"x":{"field":"step","type":"quantitative","scale":{"domain":[-3.5,72.5],"nice":false,"zero":false},"axis":{"values":[0,20,40,60],"title":"step"}}},
  "layer":[
   {"mark":{"type":"area","color":"#1f77b4","opacity":0.2},"encoding":{"y":{"field":"vl","type":"quantitative","scale":{"domain":[-0.053,1.053],"nice":false,"zero":false},"axis":{"values":[0,0.5,1],"format":"~g","title":"value"}},"y2":{"field":"vh"}}},
   {"mark":{"type":"area","color":"#ff7f0e","opacity":0.2},"encoding":{"y":{"field":"rl","type":"quantitative","axis":{"values":[0,0.5,1],"format":"~g","title":"value"}},"y2":{"field":"rh"}}},
   {"mark":{"type":"line","strokeWidth":1.6},"encoding":{"y":{"field":"v","type":"quantitative","axis":{"values":[0,0.5,1],"format":"~g","title":"value"}},"color":{"datum":"Value","type":"nominal","scale":{"domain":["Value","Reward-to-go"],"range":["#1f77b4","#ff7f0e"]},"legend":{"orient":"none","legendX":298,"legendY":-115,"direction":"horizontal","title":null,"symbolType":"M-1,0L3.5,0","symbolSize":400,"symbolStrokeWidth":1.6,"labelOffset":32,"columnPadding":7,"padding":10}}}},
   {"mark":{"type":"line","strokeWidth":1.6},"encoding":{"y":{"field":"r","type":"quantitative","axis":{"values":[0,0.5,1],"format":"~g","title":"value"}},"color":{"datum":"Reward-to-go","type":"nominal","scale":{"domain":["Value","Reward-to-go"],"range":["#1f77b4","#ff7f0e"]},"legend":{"orient":"none","legendX":298,"legendY":-115,"direction":"horizontal","title":null,"symbolType":"M-1,0L3.5,0","symbolSize":400,"symbolStrokeWidth":1.6,"labelOffset":32,"columnPadding":7,"padding":10}}}}
  ]},
 {"width":197,"height":145,"title":{"text":"‘out’, no defense"},"data":{"name":"b"},
  "encoding":{"x":{"field":"step","type":"quantitative","scale":{"domain":[-3.5,72.5],"nice":false,"zero":false},"axis":{"values":[0,20,40,60],"title":"step"}}},
  "layer":[
   {"mark":{"type":"area","color":"#1f77b4","opacity":0.2},"encoding":{"y":{"field":"vl","type":"quantitative","scale":{"domain":[-0.053,1.053],"nice":false,"zero":false},"axis":{"values":[0,0.5,1],"format":"~g","title":null}},"y2":{"field":"vh"}}},
   {"mark":{"type":"area","color":"#ff7f0e","opacity":0.2},"encoding":{"y":{"field":"rl","type":"quantitative","axis":{"values":[0,0.5,1],"format":"~g","title":null}},"y2":{"field":"rh"}}},
   {"mark":{"type":"line","strokeWidth":1.6},"encoding":{"y":{"field":"v","type":"quantitative","axis":{"values":[0,0.5,1],"format":"~g","title":null}},"color":{"datum":"Value","type":"nominal","scale":{"domain":["Value","Reward-to-go"],"range":["#1f77b4","#ff7f0e"]},"legend":null}}},
   {"mark":{"type":"line","strokeWidth":1.6},"encoding":{"y":{"field":"r","type":"quantitative","axis":{"values":[0,0.5,1],"format":"~g","title":null}},"color":{"datum":"Reward-to-go","type":"nominal","scale":{"domain":["Value","Reward-to-go"],"range":["#1f77b4","#ff7f0e"]},"legend":null}}}
  ]},
 {"width":197,"height":145,"title":{"text":"‘in’, CriticDefense"},"data":{"name":"c"},
  "encoding":{"x":{"field":"step","type":"quantitative","scale":{"domain":[-3.5,72.5],"nice":false,"zero":false},"axis":{"values":[0,20,40,60],"title":"step"}}},
  "layer":[
   {"mark":{"type":"area","color":"#1f77b4","opacity":0.2},"encoding":{"y":{"field":"vl","type":"quantitative","scale":{"domain":[-0.053,1.053],"nice":false,"zero":false},"axis":{"values":[0,0.5,1],"format":"~g","title":null}},"y2":{"field":"vh"}}},
   {"mark":{"type":"area","color":"#ff7f0e","opacity":0.2},"encoding":{"y":{"field":"rl","type":"quantitative","axis":{"values":[0,0.5,1],"format":"~g","title":null}},"y2":{"field":"rh"}}},
   {"mark":{"type":"line","strokeWidth":1.6},"encoding":{"y":{"field":"v","type":"quantitative","axis":{"values":[0,0.5,1],"format":"~g","title":null}},"color":{"datum":"Value","type":"nominal","scale":{"domain":["Value","Reward-to-go"],"range":["#1f77b4","#ff7f0e"]},"legend":null}}},
   {"mark":{"type":"line","strokeWidth":1.6},"encoding":{"y":{"field":"r","type":"quantitative","axis":{"values":[0,0.5,1],"format":"~g","title":null}},"color":{"datum":"Reward-to-go","type":"nominal","scale":{"domain":["Value","Reward-to-go"],"range":["#1f77b4","#ff7f0e"]},"legend":null}}}
  ]},
 {"width":197,"height":145,"title":{"text":"‘out’, CriticDefense"},"data":{"name":"d"},
  "encoding":{"x":{"field":"step","type":"quantitative","scale":{"domain":[-3.5,72.5],"nice":false,"zero":false},"axis":{"values":[0,20,40,60],"title":"step"}}},
  "layer":[
   {"mark":{"type":"area","color":"#1f77b4","opacity":0.2},"encoding":{"y":{"field":"vl","type":"quantitative","scale":{"domain":[-0.053,1.053],"nice":false,"zero":false},"axis":{"values":[0,0.5,1],"format":"~g","title":null}},"y2":{"field":"vh"}}},
   {"mark":{"type":"area","color":"#ff7f0e","opacity":0.2},"encoding":{"y":{"field":"rl","type":"quantitative","axis":{"values":[0,0.5,1],"format":"~g","title":null}},"y2":{"field":"rh"}}},
   {"mark":{"type":"line","strokeWidth":1.6},"encoding":{"y":{"field":"v","type":"quantitative","axis":{"values":[0,0.5,1],"format":"~g","title":null}},"color":{"datum":"Value","type":"nominal","scale":{"domain":["Value","Reward-to-go"],"range":["#1f77b4","#ff7f0e"]},"legend":null}}},
   {"mark":{"type":"line","strokeWidth":1.6},"encoding":{"y":{"field":"r","type":"quantitative","axis":{"values":[0,0.5,1],"format":"~g","title":null}},"color":{"datum":"Reward-to-go","type":"nominal","scale":{"domain":["Value","Reward-to-go"],"range":["#1f77b4","#ff7f0e"]},"legend":null}}}
  ]}
 ], "spacing": 68, "bounds": "flush"},
{"hconcat": [
 {"width":1,"height":1,"data":{"values":[]},"mark":"point","view":{"stroke":null}},
 {"concat": [
  {"width":237,"height":144,"title":{"text":"No Defense","dy":3},"data":{"name":"nd"},
   "encoding":{"x":{"field":"c","type":"quantitative","scale":{"domain":[0.419,1.04],"nice":false,"zero":false},"axis":{"values":[0.6,0.8,1],"format":"~g","title":null}},
     "y":{"field":"p","type":"quantitative","scale":{"domain":[0.222,0.756],"nice":false,"zero":false},"axis":{"values":[0.4,0.6],"format":"~g","title":"probability"}},
     "color":{"field":"kp","type":"nominal","scale":{"domain":["A","B","C","D"],"range":["#0000ff","#ff0000","#0000ff","#ff0000"]},"legend":null}},
   "layer":[
    {"transform":[{"filter":"datum.kp=='A'||datum.kp=='B'"}],"mark":{"type":"point","shape":"circle","filled":true,"size":40,"opacity":1,"clip":true}},
    {"transform":[{"filter":"datum.kp=='C'||datum.kp=='D'"}],"mark":{"type":"point","shape":"M-1,-1L1,1M-1,1L1,-1","filled":false,"size":64,"strokeWidth":1.2,"opacity":1,"clip":true}}
   ]},
  {"width":237,"height":144,"title":{"text":"CriticDefense","dy":6},"data":{"name":"cd"},
   "encoding":{"x":{"field":"c","type":"quantitative","scale":{"domain":[0.044,0.676],"nice":false,"zero":false},"axis":{"values":[0.2,0.4,0.6],"format":"~g","title":null}},
     "y":{"field":"p","type":"quantitative","scale":{"domain":[0.4472,0.5552],"nice":false,"zero":false},"axis":{"values":[0.45,0.5,0.55],"format":"~g","title":null}}},
   "layer":[
    {"transform":[{"filter":"datum.kp=='A'||datum.kp=='B'"}],"mark":{"type":"point","shape":"circle","filled":true,"size":40,"opacity":1,"clip":true},
     "encoding":{"color":{"field":"kp","type":"nominal","scale":{"domain":["A","B","C","D"],"range":["#0000ff","#ff0000","#0000ff","#ff0000"]},"legend":null}}},
    {"transform":[{"filter":"datum.kp=='C'||datum.kp=='D'"}],"mark":{"type":"point","shape":"M-1,-1L1,1M-1,1L1,-1","filled":false,"size":64,"strokeWidth":1.2,"opacity":1,"clip":true},
     "encoding":{"color":{"field":"kp","type":"nominal","scale":{"domain":["A","B","C","D"],"range":["#0000ff","#ff0000","#0000ff","#ff0000"]},"legend":null}}},
    {"transform":[{"filter":"false"}],"mark":{"type":"point","filled":false,"strokeWidth":1.5,"opacity":1},
     "encoding":{
      "shape":{"field":"kp","type":"nominal","scale":{"domain":["A","B","C","D"],"range":["M-1,0L0.75,0M1.75,0L3.5,0M0.75,0A0.5,0.5,0,1,1,1.75,0A0.5,0.5,0,1,1,0.75,0","M-1,0L0.75,0M1.75,0L3.5,0M0.75,0A0.5,0.5,0,1,1,1.75,0A0.5,0.5,0,1,1,0.75,0","M-1,0L3.5,0M0.9,-0.35L1.6,0.35M0.9,0.35L1.6,-0.35","M-1,0L3.5,0M0.9,-0.35L1.6,0.35M0.9,0.35L1.6,-0.35"]},
        "legend":{"orient":"none","legendX":625,"legendY":410,"title":null,"symbolSize":400,"symbolStrokeWidth":1.5,"symbolOpacity":1,"labelOffset":33,"rowPadding":12,"padding":10,
         "labelExpr":"datum.label == 'A' ? 'predict in, actual in' : datum.label == 'B' ? 'predict out, actual out' : datum.label == 'C' ? 'predict out, actual in' : 'predict in, actual out'"}},
      "stroke":{"field":"kp","type":"nominal","scale":{"domain":["A","B","C","D"],"range":["#0000ff","#ff0000","#0000ff","#ff0000"]},
        "legend":{"orient":"none","legendX":625,"legendY":410,"title":null,"symbolSize":400,"symbolStrokeWidth":1.5,"symbolOpacity":1,"labelOffset":33,"rowPadding":12,"padding":10,
         "labelExpr":"datum.label == 'A' ? 'predict in, actual in' : datum.label == 'B' ? 'predict out, actual out' : datum.label == 'C' ? 'predict out, actual in' : 'predict in, actual out'"}}}}
   ]},
  {"width":237,"height":144,"data":{"name":"nd"},
   "encoding":{"x":{"field":"c","type":"quantitative","scale":{"domain":[0.419,1.04],"nice":false,"zero":false},"axis":{"values":[0.6,0.8,1],"format":"~g","title":"correlation"}},
     "y":{"field":"v","type":"quantitative","scale":{"domain":[-2.4,51.5],"nice":false,"zero":false},"axis":{"values":[0,20,40],"format":"d","title":"votes"}},
     "color":{"field":"kv","type":"nominal","scale":{"domain":["A","B","C","D"],"range":["#0000ff","#ff0000","#0000ff","#ff0000"]},"legend":null}},
   "layer":[
    {"transform":[{"filter":"datum.kv=='A'||datum.kv=='B'"}],"mark":{"type":"point","shape":"circle","filled":true,"size":40,"opacity":1,"clip":true}},
    {"transform":[{"filter":"datum.kv=='C'||datum.kv=='D'"}],"mark":{"type":"point","shape":"M-1,-1L1,1M-1,1L1,-1","filled":false,"size":64,"strokeWidth":1.2,"opacity":1,"clip":true}}
   ]},
  {"width":237,"height":144,"data":{"name":"cd"},
   "encoding":{"x":{"field":"c","type":"quantitative","scale":{"domain":[0.044,0.676],"nice":false,"zero":false},"axis":{"values":[0.2,0.4,0.6],"format":"~g","title":"correlation"}},
     "y":{"field":"v","type":"quantitative","scale":{"domain":[-2.2,50.5],"nice":false,"zero":false},"axis":{"values":[0,20,40],"format":"d","title":null}},
     "color":{"field":"kv","type":"nominal","scale":{"domain":["A","B","C","D"],"range":["#0000ff","#ff0000","#0000ff","#ff0000"]},"legend":null}},
   "layer":[
    {"transform":[{"filter":"datum.kv=='A'||datum.kv=='B'"}],"mark":{"type":"point","shape":"circle","filled":true,"size":40,"opacity":1,"clip":true}},
    {"transform":[{"filter":"datum.kv=='C'||datum.kv=='D'"}],"mark":{"type":"point","shape":"M-1,-1L1,1M-1,1L1,-1","filled":false,"size":64,"strokeWidth":1.2,"opacity":1,"clip":true}}
   ]}
 ], "columns": 2, "spacing": {"row": 61, "column": 96}, "bounds": "flush"}
], "spacing": 17, "bounds": "flush", "resolve": {"scale": {"color": "independent"}}}
]
}
